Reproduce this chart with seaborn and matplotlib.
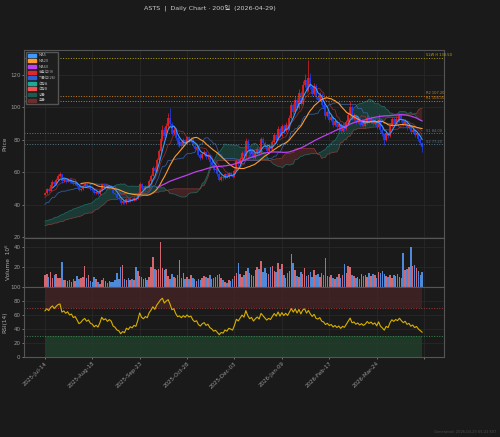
import numpy as np
import pandas as pd
import seaborn as sns
import matplotlib.pyplot as plt
from matplotlib.patches import Patch

# ---- data ----
# closes before the visible window, only used for ichimoku / rsi warm-up
pre_close = [24.1, 23.5, 22.8, 23.9, 24.6, 23.2, 22.4, 21.8, 22.9, 23.6,
             24.3, 23.1, 22.2, 21.5, 22.7, 23.8, 24.9, 24.2, 23.4, 22.6,
             21.9, 22.8, 23.7, 24.5, 25.3, 24.6, 23.9, 24.8, 25.6, 26.2,
             25.4, 24.7, 25.9, 26.8, 27.5, 26.9, 28.1, 29.0, 28.4, 27.6,
             28.8, 29.7, 30.5, 29.8, 31.2, 30.4, 29.6, 30.9, 31.8, 32.6,
             31.9, 30.8, 31.6, 32.9, 33.8, 33.1, 34.4, 35.6, 34.8, 36.1,
             37.4, 36.6, 38.0, 39.8, 37.9, 40.6, 39.2, 41.8, 40.1, 43.0,
             41.4, 44.0, 42.1, 44.9, 43.0, 45.6, 43.8, 46.1]

close = [47.2, 49.5, 48.6, 51.8, 53.9, 52.6, 55.4, 57.8, 58.6, 54.3,
         55.6, 54.2, 55.8, 53.9, 54.7, 52.6, 53.4, 51.2, 48.7, 49.6,
         51.3, 52.4, 50.6, 51.5, 49.4, 48.8, 46.9, 47.8, 46.5, 48.9,
         52.8, 51.2, 52.0, 50.4, 51.6, 50.6, 47.3, 46.4, 44.2, 43.5,
         40.8, 41.9, 40.9, 43.2, 42.1, 43.6, 42.8, 44.1, 43.5, 46.8,
         52.9, 50.1, 49.2, 51.0, 50.3, 54.8, 57.9, 62.4, 60.8, 67.5,
         72.9, 80.6, 86.2, 82.4, 88.5, 93.7, 89.8, 84.1, 86.3, 81.0,
         77.2, 78.5, 76.3, 79.6, 77.8, 81.4, 79.2, 80.5, 76.4, 74.1,
         75.3, 70.6, 68.7, 71.2, 72.4, 69.1, 70.3, 66.2, 64.5, 61.3,
         62.0, 58.9, 55.4, 57.2, 56.1, 58.6, 57.0, 59.3, 58.4, 57.2,
         60.9, 66.8, 65.2, 68.4, 71.9, 70.1, 79.4, 74.6, 71.2, 73.0,
         68.9, 71.8, 74.3, 72.1, 80.6, 78.2, 75.9, 73.1, 75.4, 74.2,
         78.5, 82.7, 80.1, 86.9, 82.4, 88.6, 85.2, 89.4, 86.8, 93.5,
         101.2, 97.0, 104.8, 99.5, 108.9, 102.3, 113.6, 116.8, 110.2, 118.4,
         112.5, 108.1, 113.4, 106.2, 104.7, 107.9, 101.3, 99.8, 94.6, 96.9,
         92.4, 94.1, 89.2, 91.5, 87.6, 89.8, 85.3, 88.1, 86.4, 90.7,
         95.2, 100.4, 93.1, 94.5, 90.8, 92.6, 89.4, 91.2, 88.5, 90.3,
         93.6, 91.0, 92.8, 89.9, 91.5, 87.6, 92.4, 86.3, 83.5, 79.8,
         84.2, 82.1, 88.3, 92.6, 90.4, 93.1, 91.7, 95.0, 92.2, 89.6,
         91.3, 87.4, 88.6, 84.9, 86.2, 82.7, 83.9, 80.4, 78.1, 75.6]

high = [48.0, 50.2, 50.6, 52.5, 55.1, 54.8, 56.3, 59.0, 60.2, 59.1,
        56.4, 56.3, 56.5, 56.2, 55.6, 55.1, 54.2, 53.9, 51.6, 50.3,
        52.0, 53.6, 52.9, 52.2, 51.9, 50.1, 49.2, 48.5, 48.2, 49.4,
        53.6, 53.4, 52.8, 52.4, 52.3, 52.1, 51.0, 48.0, 46.9, 45.0,
        43.9, 42.7, 42.4, 43.9, 43.8, 44.3, 44.1, 44.8, 44.9, 47.6,
        54.1, 53.6, 51.0, 51.8, 52.1, 55.6, 58.9, 63.6, 64.1, 68.8,
        74.6, 82.4, 88.9, 87.7, 90.2, 96.8, 99.6, 91.0, 88.4, 87.1,
        82.0, 80.6, 79.4, 80.8, 80.5, 82.6, 82.3, 81.8, 81.2, 77.2,
        76.5, 75.9, 71.8, 72.3, 73.9, 73.0, 71.5, 70.9, 67.3, 65.2,
        63.4, 62.6, 59.5, 58.1, 58.0, 59.4, 59.3, 60.2, 60.1, 59.0,
        61.8, 68.0, 68.4, 69.6, 73.2, 73.5, 80.9, 80.3, 75.4, 74.2,
        73.6, 72.7, 75.5, 75.2, 82.0, 81.7, 79.1, 76.6, 76.5, 76.3,
        79.6, 84.1, 83.6, 88.3, 87.8, 89.9, 89.7, 90.8, 90.3, 95.1,
        103.5, 102.4, 106.9, 106.1, 111.2, 110.0, 116.0, 120.4, 118.2, 129.0,
        121.3, 113.8, 115.2, 114.1, 108.0, 109.6, 108.6, 103.0, 100.7, 98.4,
        97.6, 95.5, 94.8, 92.9, 92.3, 91.0, 90.4, 89.2, 89.5, 92.0,
        97.1, 104.0, 101.2, 96.3, 95.3, 94.1, 93.4, 92.6, 92.0, 91.6,
        95.2, 94.5, 94.4, 93.6, 92.8, 92.2, 95.8, 93.1, 87.2, 84.3,
        85.6, 85.0, 89.8, 94.3, 93.8, 94.7, 94.2, 96.8, 95.9, 93.0,
        92.7, 92.0, 89.9, 89.3, 87.4, 86.9, 85.1, 84.5, 81.2, 78.9]

low = [45.6, 46.8, 48.0, 48.2, 51.0, 52.0, 52.1, 55.0, 57.1, 53.6,
       53.8, 53.5, 53.7, 53.2, 53.4, 52.0, 52.1, 50.6, 48.1, 48.2,
       49.2, 50.8, 50.0, 50.1, 48.9, 48.2, 46.3, 46.4, 45.9, 46.1,
       48.6, 50.6, 50.7, 49.9, 50.0, 50.1, 46.8, 45.7, 43.6, 42.8,
       39.9, 40.2, 40.3, 40.5, 41.6, 41.8, 42.3, 42.4, 43.0, 43.2,
       46.5, 49.4, 48.5, 48.8, 49.7, 50.0, 54.2, 57.5, 59.9, 60.3,
       66.8, 72.1, 79.5, 81.0, 81.6, 87.4, 88.5, 83.2, 83.0, 80.1,
       76.1, 75.8, 75.2, 75.7, 76.9, 77.1, 78.4, 78.5, 75.5, 73.0,
       73.2, 69.8, 67.5, 68.0, 70.5, 68.2, 68.4, 65.3, 63.6, 60.4,
       60.2, 57.8, 54.3, 54.6, 55.2, 55.5, 56.2, 56.5, 57.6, 56.4,
       56.8, 60.5, 64.1, 64.6, 67.8, 69.2, 69.6, 73.5, 70.1, 70.4,
       67.8, 68.2, 71.2, 71.3, 71.6, 77.0, 75.0, 72.2, 72.6, 73.4,
       73.8, 78.0, 79.2, 79.6, 81.5, 81.8, 84.1, 84.6, 85.9, 86.2,
       92.8, 95.8, 96.3, 98.4, 98.8, 101.1, 101.7, 112.5, 109.0, 109.6,
       111.2, 106.9, 107.4, 105.0, 103.2, 103.9, 100.2, 98.5, 93.1, 93.8,
       91.2, 91.6, 88.0, 88.4, 86.5, 86.9, 84.1, 84.5, 85.2, 85.8,
       90.0, 94.6, 92.0, 92.2, 89.6, 90.1, 88.5, 88.6, 87.6, 87.8,
       89.7, 90.1, 90.3, 89.0, 89.2, 86.5, 87.0, 85.0, 82.1, 76.9,
       79.1, 81.0, 81.6, 87.7, 89.5, 89.8, 90.8, 91.0, 91.0, 88.2,
       88.9, 86.2, 86.6, 83.6, 84.1, 81.4, 82.0, 79.2, 76.8, 72.4]

# volume in millions
volume = [12, 13, 10, 15, 9, 12, 13, 9, 9, 25,
          7, 7, 6, 7, 5, 8, 6, 11, 8, 9,
          10, 21, 9, 12, 6, 5, 10, 8, 5, 3,
          7, 9, 6, 4, 6, 5, 5, 7, 14, 8,
          20, 22, 8, 7, 9, 7, 8, 7, 20, 16,
          11, 10, 8, 9, 7, 10, 20, 30, 18, 17,
          18, 44, 19, 17, 18, 11, 8, 13, 10, 9,
          12, 27, 9, 14, 8, 10, 8, 12, 9, 8,
          6, 8, 7, 9, 11, 10, 9, 12, 8, 9,
          10, 12, 13, 9, 7, 5, 4, 7, 6, 8,
          11, 14, 24, 13, 10, 12, 16, 19, 14, 12,
          11, 17, 20, 18, 26, 15, 19, 14, 13, 20,
          21, 16, 15, 24, 18, 23, 12, 9, 14, 16,
          33, 24, 17, 11, 10, 15, 13, 19, 11, 12,
          15, 10, 17, 12, 13, 10, 14, 12, 29, 11,
          10, 12, 9, 8, 10, 13, 9, 12, 23, 14,
          21, 20, 12, 11, 9, 10, 8, 13, 11, 12,
          10, 14, 11, 13, 12, 9, 15, 14, 16, 13,
          11, 10, 12, 9, 12, 11, 13, 10, 9, 34,
          17, 18, 20, 40, 21, 22, 19, 16, 12, 15]

tick_pos = [0, 25, 50, 75, 100, 125, 150, 175, 200]
tick_labels = ['2025-Jul-14', '2025-Aug-18', '2025-Sep-23', '2025-Oct-28',
               '2025-Dec-03', '2026-Jan-09', '2026-Feb-17', '2026-Mar-24', '']

levels = [130.5, 107.2, 104.1, 84.0, 77.2]
level_labels = ['52W H 130.50', 'R2 107.20', 'R1 104.10', 'S1 84.00', 'S2 77.20']

# ---- style ----
BG = '#1a1a1a'
UP, DOWN = '#f02020', '#2040ff'
level_colors = ['#b8a400', '#c8801e', '#c8801e', '#587888', '#587888']

sns.set_theme(style='dark', rc={
    'figure.facecolor': BG, 'axes.facecolor': BG, 'savefig.facecolor': BG,
    'axes.edgecolor': '#555555', 'axes.linewidth': 0.8,
    'grid.color': '#2a2a2a', 'grid.linewidth': 0.5,
    'text.color': '#bbbbbb', 'axes.labelcolor': '#aaaaaa',
    'xtick.color': '#999999', 'ytick.color': '#999999',
    'xtick.labelsize': 4, 'ytick.labelsize': 4, 'axes.labelsize': 4.2,
    'xtick.major.size': 1.5, 'ytick.major.size': 1.5,
    'xtick.major.width': 0.5, 'ytick.major.width': 0.5,
    'xtick.major.pad': 1, 'ytick.major.pad': 1,
    'xtick.bottom': True, 'ytick.left': True,
})
plt.rcParams['font.family'] = ['DejaVu Sans', 'Noto Sans CJK KR']

# ---- indicators ----
n_pre = len(pre_close)
full = pd.Series(pre_close + close, dtype=float)
x = np.arange(len(close))
px = pd.Series(close, dtype=float)
opn = full.shift(1).iloc[n_pre:].reset_index(drop=True)
up = (px >= opn).values
hi = np.array(high)
lo = np.array(low)

ma5 = px.rolling(5).mean()
ma20 = px.rolling(20).mean()
ma60 = px.rolling(60).mean()

def mid(s, n):
    return (s.rolling(n).max() + s.rolling(n).min()) / 2

conv = mid(full, 9)
base = mid(full, 26)
span_a = ((conv + base) / 2).shift(26)
span_b = mid(full, 52).shift(26)
conv, base, span_a, span_b = [s.iloc[n_pre:].reset_index(drop=True)
                              for s in (conv, base, span_a, span_b)]

delta = full.diff()
gain = delta.clip(lower=0).ewm(alpha=1/14, adjust=False).mean()
loss = (-delta.clip(upper=0)).ewm(alpha=1/14, adjust=False).mean()
rsi = (100 - 100 / (1 + gain / loss)).iloc[n_pre:].reset_index(drop=True)

# ---- figure ----
fig = plt.figure(figsize=(5, 4.37), dpi=100)
gs = fig.add_gridspec(3, 1, height_ratios=[188, 49, 70], hspace=0,
                      left=0.048, right=0.888, top=0.886, bottom=0.183)
ax = fig.add_subplot(gs[0])
axv = fig.add_subplot(gs[1], sharex=ax)
axr = fig.add_subplot(gs[2], sharex=ax)

# cloud
a, b = span_a.values, span_b.values
ax.fill_between(x, a, b, where=a >= b, interpolate=True, color='#1f5a50', alpha=0.5, lw=0)
ax.fill_between(x, a, b, where=a < b, interpolate=True, color='#5e2828', alpha=0.6, lw=0)
sns.lineplot(x=x, y=span_a, ax=ax, color='#1f9e8e', lw=0.5, alpha=0.6)
sns.lineplot(x=x, y=span_b, ax=ax, color='#c0504d', lw=0.5, alpha=0.6)
sns.lineplot(x=x, y=conv, ax=ax, color='#c03030', lw=0.6, alpha=0.7)
sns.lineplot(x=x, y=base, ax=ax, color='#3a6ab8', lw=0.6, alpha=0.8)

# candles: wick then body
ax.vlines(x[up], lo[up], hi[up], color=UP, lw=0.5)
ax.vlines(x[~up], lo[~up], hi[~up], color=DOWN, lw=0.5)
ax.vlines(x[up], opn[up], px[up], color=UP, lw=1.2)
ax.vlines(x[~up], opn[~up], px[~up], color=DOWN, lw=1.2)

sns.lineplot(x=x, y=ma5, ax=ax, color='#3d9bff', lw=0.8)
sns.lineplot(x=x, y=ma20, ax=ax, color='#ff9a30', lw=0.8)
sns.lineplot(x=x, y=ma60, ax=ax, color='#c040f0', lw=0.9)

for lv, lab, c in zip(levels, level_labels, level_colors):
    ax.axhline(lv, color=c, ls=':', lw=0.7)
    ax.text(201, lv + 0.3, lab, color=c, fontsize=2.6, va='bottom', ha='left')

ax.set_xlim(-11, 210.5)
ax.set_ylim(19.4, 135.5)
ax.set_yticks([20, 40, 60, 80, 100, 120])
ax.set_ylabel('Price', labelpad=2)
ax.set_xlabel('')
ax.grid(True)
ax.tick_params(labelbottom=False)

handles = [Patch(color='#3d9bff', label='MA5'), Patch(color='#ff9a30', label='MA20'),
           Patch(color='#c040f0', label='MA60'), Patch(color='#e02828', label='전환선(9)'),
           Patch(color='#2c5fd0', label='기준선(26)'), Patch(color='#1fa898', label='선행A'),
           Patch(color='#f05050', label='선행B'), Patch(color='#1f5a50', label='양운'),
           Patch(color='#6e2c2c', label='음운')]
leg = ax.legend(handles=handles, loc='upper left', fontsize=2.6, frameon=True,
                handlelength=2.2, handleheight=0.9, borderpad=0.5, labelspacing=0.45,
                facecolor='#1e1e1e', edgecolor='#555555', framealpha=1)
for t in leg.get_texts():
    t.set_color('#aaaaaa')

# volume
vol_colors = np.where(up, '#e8707a', '#5596f0')
axv.bar(x, volume, width=0.8, color=vol_colors, alpha=0.9, lw=0)
axv.set_ylim(0, 48.5)
axv.set_yticks([20, 40])
axv.set_ylabel('Volume  10⁶', labelpad=2)
axv.grid(True)
axv.tick_params(labelbottom=False)

# rsi
axr.fill_between(x, 70, 100, color='#4a2424', alpha=0.7, lw=0)
axr.fill_between(x, 0, 30, color='#22402c', alpha=0.8, lw=0)
axr.axhline(70, color='#a03a3a', ls=':', lw=0.7)
axr.axhline(30, color='#3a8a50', ls=':', lw=0.7)
sns.lineplot(x=x, y=rsi, ax=axr, color='#d8b000', lw=0.8)
axr.set_ylim(0, 100)
axr.set_yticks([0, 20, 40, 60, 80, 100])
axr.set_ylabel('RSI(14)', labelpad=2)
axr.grid(True)
axr.set_xticks(tick_pos)
axr.set_xticklabels(tick_labels, rotation=45, ha='right', rotation_mode='anchor')

fig.text(0.42, 0.99, 'ASTS  |  Daily Chart · 200일  (2026-04-29)', ha='center', va='top',
         fontsize=4.6, color='#cccccc')
fig.text(0.992, 0.008, 'Generated: 2026-04-29 05:22 KST', ha='right', va='bottom',
         fontsize=2.6, color='#4a4a4a')

plt.savefig('out.png', dpi=100)
plt.close()
